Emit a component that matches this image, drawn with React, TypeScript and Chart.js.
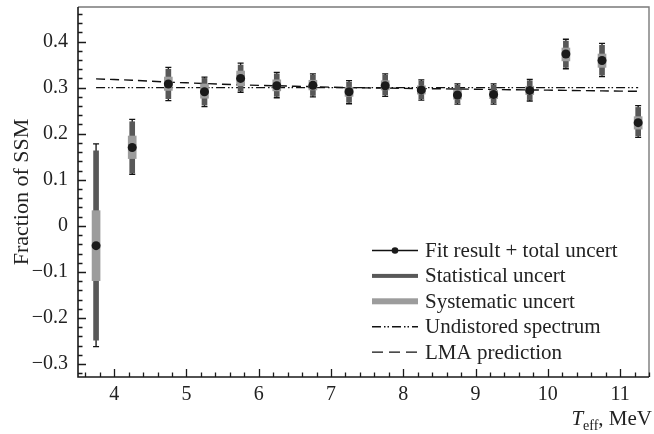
import React, { useEffect, useRef } from "react";
import { Chart, registerables } from "chart.js";

Chart.register(...registerables);

// ---- data ----
const T_EFF = [3.75, 4.25, 4.75, 5.25, 5.75, 6.25, 6.75, 7.25, 7.75, 8.25, 8.75, 9.25, 9.75, 10.25, 10.75, 11.25];
const FIT = [-0.043, 0.17, 0.308, 0.291, 0.32, 0.304, 0.305, 0.291, 0.304, 0.295, 0.284, 0.285, 0.294, 0.373, 0.359, 0.224];
const TOTAL_HI = [0.178, 0.231, 0.344, 0.323, 0.353, 0.333, 0.33, 0.315, 0.33, 0.317, 0.308, 0.308, 0.318, 0.405, 0.396, 0.261];
const TOTAL_LO = [-0.262, 0.112, 0.272, 0.259, 0.29, 0.278, 0.28, 0.265, 0.281, 0.273, 0.264, 0.264, 0.271, 0.341, 0.324, 0.192];
const STAT_HI = [0.163, 0.226, 0.34, 0.32, 0.349, 0.33, 0.327, 0.312, 0.327, 0.314, 0.305, 0.305, 0.315, 0.401, 0.392, 0.257];
const STAT_LO = [-0.248, 0.115, 0.276, 0.262, 0.293, 0.281, 0.283, 0.268, 0.284, 0.276, 0.267, 0.267, 0.274, 0.344, 0.327, 0.195];
const SYST_HI = [0.033, 0.195, 0.323, 0.308, 0.336, 0.317, 0.316, 0.301, 0.315, 0.304, 0.294, 0.294, 0.303, 0.386, 0.373, 0.237];
const SYST_LO = [-0.119, 0.146, 0.294, 0.277, 0.304, 0.293, 0.295, 0.281, 0.295, 0.286, 0.275, 0.276, 0.285, 0.358, 0.344, 0.21];
const UNDISTORTED = [0.3, 0.3, 0.3, 0.3, 0.3, 0.3, 0.3, 0.3, 0.3, 0.3, 0.3, 0.3, 0.3, 0.3, 0.3, 0.3];
const LMA = [0.319, 0.316, 0.312, 0.309, 0.306, 0.304, 0.302, 0.3, 0.299, 0.298, 0.297, 0.296, 0.295, 0.294, 0.293, 0.292];

const X_TICKS = [4, 5, 6, 7, 8, 9, 10, 11];
const Y_TICKS = [-0.3, -0.2, -0.1, 0, 0.1, 0.2, 0.3, 0.4];
const Y_TICK_LABELS = ["\u22120.3", "\u22120.2", "\u22120.1", "0", "0.1", "0.2", "0.3", "0.4"];
const LEGEND_LABELS = ["Fit result + total uncert", "Statistical uncert", "Systematic uncert", "Undistored spectrum", "LMA prediction"];
const Y_TITLE = "Fraction of SSM";

const FONT = '"Liberation Serif", "Times New Roman", serif';
const TEXT = "#222";
const STAT_COLOR = "#585858";
const SYST_COLOR = "#9c9c9c";
const DOT_COLOR = "#1a1a1a";
const UND_DASH = [9, 3, 1.5, 2, 1.5, 3];
const LMA_DASH = [9, 5];

export default function App() {
  const ref = useRef<HTMLCanvasElement>(null);

  useEffect(() => {
    const canvas = ref.current!;

    const custom = {
      id: "custom",
      beforeDatasetsDraw(chart: any) {
        const ctx = chart.ctx;
        const xs = chart.scales.x;
        const ys = chart.scales.y;
        ctx.save();
        ctx.setLineDash([]);
        ctx.strokeStyle = "#111";
        ctx.lineWidth = 1.3;
        T_EFF.forEach((t, i) => {
          const px = xs.getPixelForValue(t);
          const hi = ys.getPixelForValue(TOTAL_HI[i]);
          const lo = ys.getPixelForValue(TOTAL_LO[i]);
          ctx.beginPath();
          ctx.moveTo(px, hi);
          ctx.lineTo(px, lo);
          ctx.moveTo(px - 3, hi);
          ctx.lineTo(px + 3, hi);
          ctx.moveTo(px - 3, lo);
          ctx.lineTo(px + 3, lo);
          ctx.stroke();
        });
        ctx.restore();
      },
      afterDraw(chart: any) {
        const ctx = chart.ctx;
        const a = chart.chartArea;
        const xs = chart.scales.x;
        const ys = chart.scales.y;
        ctx.save();
        ctx.setLineDash([]);
        // top & right border
        ctx.strokeStyle = "#7a7a7a";
        ctx.lineWidth = 1.4;
        ctx.beginPath();
        ctx.moveTo(a.left, a.top);
        ctx.lineTo(a.right, a.top);
        ctx.lineTo(a.right, a.bottom);
        ctx.stroke();
        // left & bottom axes
        ctx.strokeStyle = "#1a1a1a";
        ctx.lineWidth = 1.6;
        ctx.beginPath();
        ctx.moveTo(a.left, a.top);
        ctx.lineTo(a.left, a.bottom);
        ctx.lineTo(a.right, a.bottom);
        ctx.stroke();
        // ticks
        ctx.lineWidth = 1.3;
        ctx.beginPath();
        for (let k = -16; k <= 23; k++) {
          const v = k * 0.02;
          if (v < ys.min || v > ys.max) continue;
          const py = Math.round(ys.getPixelForValue(v)) + 0.5;
          const len = k % 5 === 0 ? 8 : 4.5;
          ctx.moveTo(a.left, py);
          ctx.lineTo(a.left + len, py);
        }
        for (let k = 18; k <= 57; k++) {
          const v = k * 0.2;
          if (v < xs.min - 1e-6 || v > xs.max + 1e-6) continue;
          const px = Math.round(xs.getPixelForValue(v)) + 0.5;
          const len = k % 5 === 0 ? 8 : 4.5;
          ctx.moveTo(px, a.bottom);
          ctx.lineTo(px, a.bottom - len);
        }
        ctx.stroke();

        // y title
        ctx.fillStyle = TEXT;
        ctx.save();
        ctx.translate(22, (a.top + a.bottom) / 2);
        ctx.rotate(-Math.PI / 2);
        ctx.font = `22px ${FONT}`;
        ctx.textAlign = "center";
        ctx.textBaseline = "middle";
        ctx.fillText(Y_TITLE, 0, 0);
        ctx.restore();

        // x title: T_eff, MeV
        const base = 425;
        ctx.textBaseline = "alphabetic";
        ctx.textAlign = "left";
        ctx.font = `italic 21px ${FONT}`;
        const wT = ctx.measureText("T").width;
        ctx.font = `14px ${FONT}`;
        const wSub = ctx.measureText("eff").width;
        ctx.font = `21px ${FONT}`;
        const wRest = ctx.measureText(", MeV").width;
        let x0 = 652 - (wT + wSub + wRest);
        ctx.font = `italic 21px ${FONT}`;
        ctx.fillText("T", x0, base);
        x0 += wT;
        ctx.font = `14px ${FONT}`;
        ctx.fillText("eff", x0, base + 5);
        x0 += wSub;
        ctx.font = `21px ${FONT}`;
        ctx.fillText(", MeV", x0, base);

        // legend
        const sx0 = 372;
        const sx1 = 418;
        const tx = 425;
        LEGEND_LABELS.forEach((lab, i) => {
          const bl = 257 + 25.4 * i;
          const cy = bl - 6.5;
          ctx.save();
          if (i === 0) {
            ctx.strokeStyle = "#111";
            ctx.lineWidth = 1.5;
            ctx.beginPath();
            ctx.moveTo(sx0, cy);
            ctx.lineTo(sx1, cy);
            ctx.stroke();
            ctx.fillStyle = DOT_COLOR;
            ctx.beginPath();
            ctx.arc((sx0 + sx1) / 2, cy, 3.3, 0, Math.PI * 2);
            ctx.fill();
          } else if (i === 1) {
            ctx.fillStyle = STAT_COLOR;
            ctx.fillRect(sx0, cy - 2, sx1 - sx0, 4);
          } else if (i === 2) {
            ctx.fillStyle = SYST_COLOR;
            ctx.fillRect(sx0, cy - 3, sx1 - sx0, 6);
          } else {
            ctx.strokeStyle = "#111";
            ctx.lineWidth = 1.4;
            ctx.setLineDash(i === 3 ? UND_DASH : [11, 6]);
            ctx.beginPath();
            ctx.moveTo(sx0, cy);
            ctx.lineTo(sx1, cy);
            ctx.stroke();
          }
          ctx.restore();
          ctx.fillStyle = TEXT;
          ctx.font = `21px ${FONT}`;
          ctx.textAlign = "left";
          ctx.textBaseline = "alphabetic";
          ctx.fillText(lab, tx, bl);
        });
        ctx.restore();
      },
    };

    const chart = new Chart(canvas, {
      type: "bar",
      data: {
        datasets: [
          {
            type: "scatter",
            label: "Fit result + total uncert",
            data: T_EFF.map((x, i) => ({ x, y: FIT[i] })),
            pointRadius: 4.5,
            pointBackgroundColor: DOT_COLOR,
            pointBorderWidth: 0,
            showLine: false,
            order: 0,
          } as any,
          {
            type: "bar",
            label: "Systematic uncert",
            data: T_EFF.map((x, i) => ({ x, y: [SYST_LO[i], SYST_HI[i]] })),
            backgroundColor: SYST_COLOR,
            borderWidth: 0,
            barThickness: 8,
            grouped: false,
            order: 1,
          } as any,
          {
            type: "bar",
            label: "Statistical uncert",
            data: T_EFF.map((x, i) => ({ x, y: [STAT_LO[i], STAT_HI[i]] })),
            backgroundColor: STAT_COLOR,
            borderWidth: 0,
            barThickness: 5,
            grouped: false,
            order: 2,
          } as any,
          {
            type: "line",
            label: "Undistored spectrum",
            data: T_EFF.map((x, i) => ({ x, y: UNDISTORTED[i] })),
            borderColor: "#111",
            borderWidth: 1.4,
            borderDash: UND_DASH,
            pointRadius: 0,
            fill: false,
            order: 3,
          } as any,
          {
            type: "line",
            label: "LMA prediction",
            data: T_EFF.map((x, i) => ({ x, y: LMA[i] })),
            borderColor: "#111",
            borderWidth: 1.4,
            borderDash: LMA_DASH,
            pointRadius: 0,
            tension: 0.3,
            fill: false,
            order: 4,
          } as any,
        ],
      },
      options: {
        responsive: false,
        animation: false,
        devicePixelRatio: 1,
        layout: { padding: { top: 7, right: 5, left: 0, bottom: 0 } },
        plugins: { legend: { display: false }, tooltip: { enabled: false } },
        scales: {
          x: {
            type: "linear",
            min: 3.5,
            max: 11.4,
            offset: false,
            afterBuildTicks: (s: any) => {
              s.ticks = X_TICKS.map((v) => ({ value: v }));
            },
            afterFit: (s: any) => {
              s.height = 57;
              s.paddingLeft = 0;
              s.paddingRight = 0;
            },
            ticks: {
              font: { family: FONT, size: 20 },
              color: TEXT,
              padding: 6,
              maxRotation: 0,
              autoSkip: false,
              callback: (v: any) => String(v),
            },
            grid: { display: false, drawTicks: false, offset: false },
            border: { display: false },
          },
          y: {
            type: "linear",
            min: -0.328,
            max: 0.475,
            afterBuildTicks: (s: any) => {
              s.ticks = Y_TICKS.map((v) => ({ value: v }));
            },
            afterFit: (s: any) => {
              s.width = 78;
              s.paddingTop = 0;
              s.paddingBottom = 0;
            },
            ticks: {
              font: { family: FONT, size: 20 },
              color: TEXT,
              padding: 10,
              autoSkip: false,
              callback: (_v: any, idx: number) => Y_TICK_LABELS[idx],
            },
            grid: { display: false, drawTicks: false },
            border: { display: false },
          },
        },
      } as any,
      plugins: [custom],
    });
    return () => chart.destroy();
  }, []);

  return (
    <div style={{ position: "fixed", left: 0, top: 0, width: 654, height: 434, background: "#fff" }}>
      <canvas ref={ref} width={654} height={434} style={{ display: "block" }} />
    </div>
  );
}
